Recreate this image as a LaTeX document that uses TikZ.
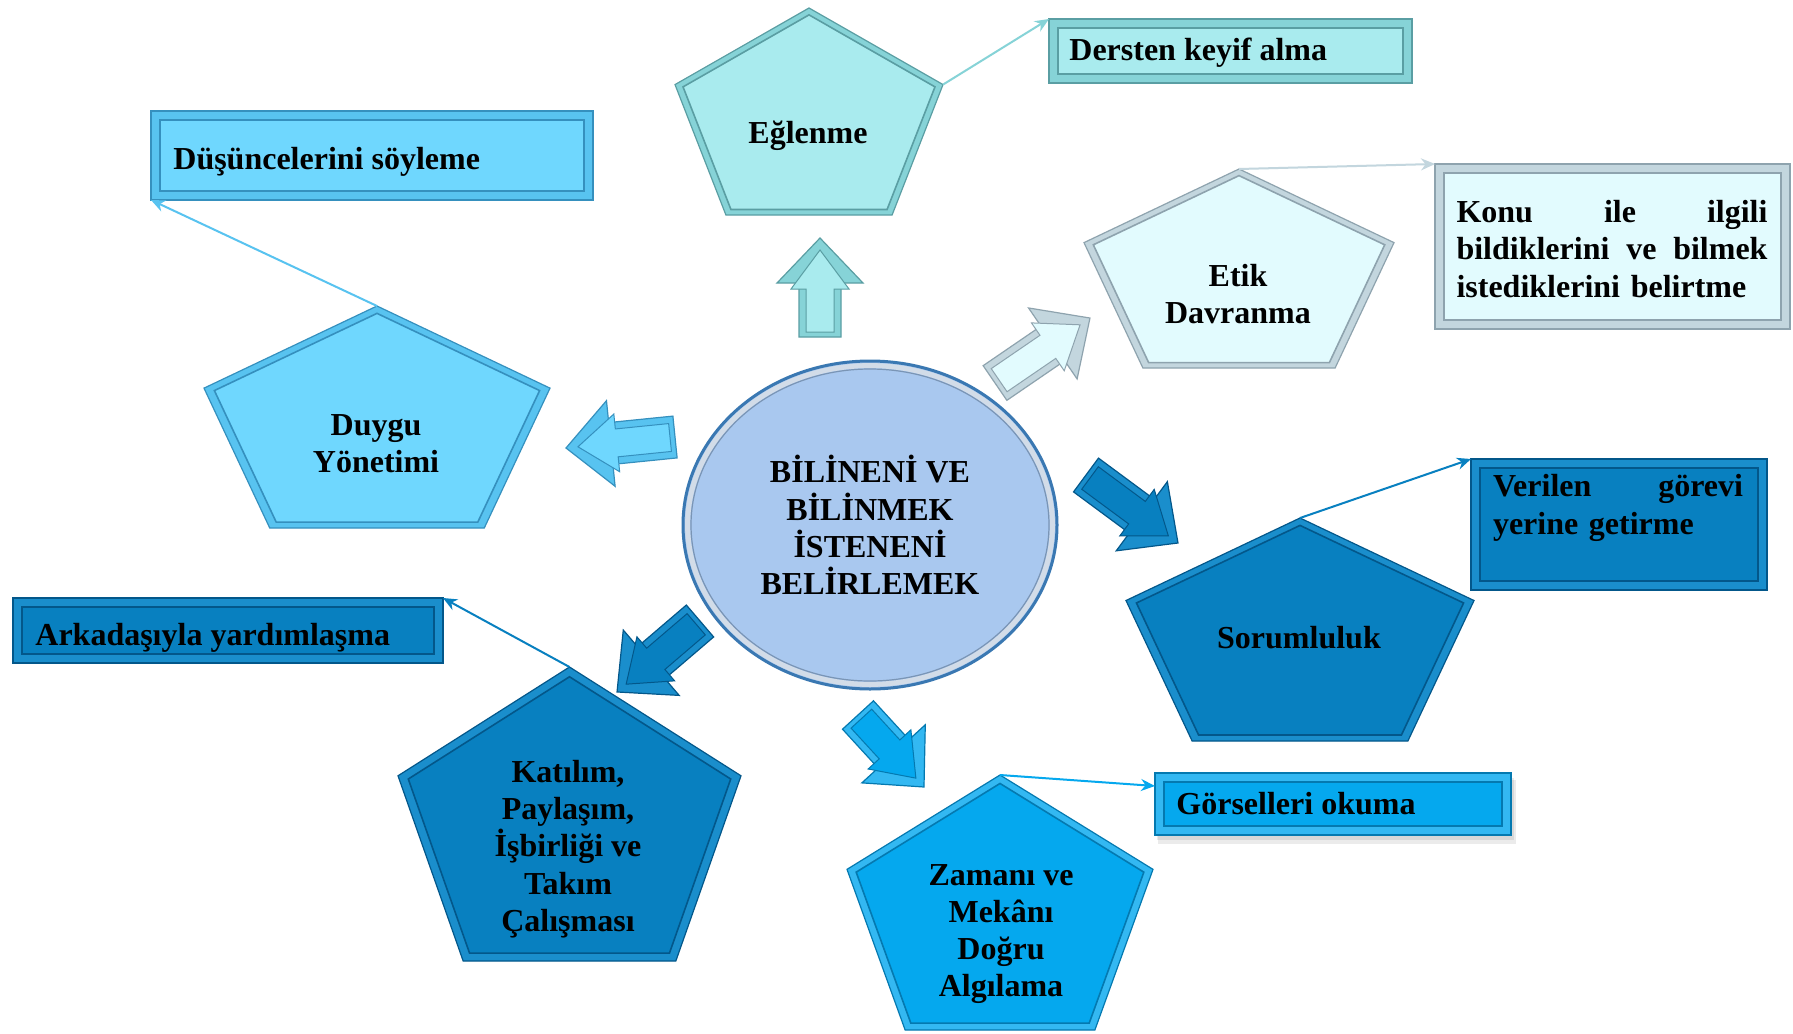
\documentclass[tikz,border=0pt]{standalone}
\usepackage{fontspec}
\setmainfont{Liberation Serif}
\usetikzlibrary{shapes.geometric,arrows.meta,calc}
\definecolor{tealF}{HTML}{A9EBEE}\definecolor{tealB}{HTML}{86D3D7}\definecolor{tealD}{HTML}{5A9EA3}
\definecolor{iceF}{HTML}{E2FBFE}\definecolor{iceB}{HTML}{C3D6DE}\definecolor{iceD}{HTML}{8EA3AE}
\definecolor{skyF}{HTML}{6FD7FE}\definecolor{skyB}{HTML}{58C3F0}\definecolor{skyD}{HTML}{3590BE}
\definecolor{navF}{HTML}{0880C0}\definecolor{navB}{HTML}{1A8ECC}\definecolor{navD}{HTML}{03578A}
\definecolor{brF}{HTML}{05A8EE}\definecolor{brB}{HTML}{33B8F2}\definecolor{brD}{HTML}{0479B0}
\definecolor{elF}{HTML}{A9C8EF}\definecolor{elR}{HTML}{3A78B2}\definecolor{elL}{HTML}{D2DCE8}\definecolor{elD}{HTML}{7A95B5}
\newcommand\pentagonal[6]{%
  \pgfmathsetmacro\pcx{(#2+#3)/2}%
  \pgfmathsetmacro\pcy{#4+0.553*(#5-#4)}%
  \pgfmathsetmacro\psy{#4+0.37*(#5-#4)}%
  \pgfmathsetmacro\pbx{0.62*(#3-#2)/2}%
  \coordinate (#1-t) at (\pcx,#4);
  \coordinate (#1-r) at (#3,\psy);
  \coordinate (#1-br) at (\pcx+\pbx,#5);
  \coordinate (#1-bl) at (\pcx-\pbx,#5);
  \coordinate (#1-l) at (#2,\psy);
  \coordinate (#1-c) at (\pcx,\pcy);
  \filldraw[fill=#6B,draw=#6D,line width=0.6pt] (#1-t)--(#1-r)--(#1-br)--(#1-bl)--(#1-l)--cycle;
  \filldraw[fill=#6F,draw=#6D,line width=0.8pt] ($(#1-c)!0.94!(#1-t)$)--($(#1-c)!0.94!(#1-r)$)--($(#1-c)!0.94!(#1-br)$)--($(#1-c)!0.94!(#1-bl)$)--($(#1-c)!0.94!(#1-l)$)--cycle;
}
\newcommand\bevelbox[6]{%
  \coordinate (#1-nw) at (#2,#3);
  \coordinate (#1-se) at (#4,#5);
  \coordinate (#1-sw) at (#2,#5);
  \coordinate (#1-ne) at (#4,#3);
  \filldraw[fill=#6B,draw=#6D,line width=0.6pt] (#1-nw) rectangle (#1-se);
  \filldraw[fill=#6F,draw=#6D,line width=0.6pt] ($(#1-nw)+(9,9)$) rectangle ($(#1-se)+(-9,-9)$);
}
\newcommand\blockarr[7]{%
  \coordinate (#1) at (#3,#4);
  \coordinate (#2) at (#5,#6);
  \pgfmathsetmacro\aang{atan2(-(#6-#4),(#5-#3))}%
  \pgfmathsetmacro\alen{veclen(#5-#3,#6-#4)}%
  \begin{scope}[shift={(#1)},rotate=\aang]
    \filldraw[fill=#7B,draw=#7D,line width=0.6pt] (0,-21)--(\alen-45,-21)--(\alen-45,-43)--(\alen,0)--(\alen-45,43)--(\alen-45,21)--(0,21)--cycle;
    \filldraw[fill=#7F,draw=#7D,line width=0.5pt] (5,-14)--(\alen-51,-14)--(\alen-51,-29)--(\alen-12,0)--(\alen-51,29)--(\alen-51,14)--(5,14)--cycle;
  \end{scope}
}
\begin{document}
\begin{tikzpicture}[x=0.5pt,y=-0.5pt,
  lbl/.style={font=\fontsize{16}{18.6}\selectfont\bfseries,inner sep=0pt,align=center,text=black},
  conn/.style={line width=1pt,-{Stealth[length=7pt,width=6pt]}}]
\useasboundingbox[fill=white] (0,0) rectangle (1793,1033);

% pentagons
\pentagonal{eg}{675}{943}{8}{215}{teal}
\pentagonal{et}{1084}{1394}{169}{368}{ice}
\pentagonal{du}{204}{550}{306}{528}{sky}
\pentagonal{so}{1126}{1474}{518}{741}{nav}
\pentagonal{ka}{398}{741}{667}{961}{nav}
\pentagonal{za}{847}{1153}{775}{1030}{br}

% boxes
\bevelbox{dk}{1049}{19}{1412}{83}{teal}
\bevelbox{ds}{151}{111}{593}{200}{sky}
\bevelbox{ko}{1435}{164}{1790}{329}{ice}
\bevelbox{ve}{1471}{459}{1767}{590}{nav}
\bevelbox{ar}{13}{598}{443}{663}{nav}
\fill[black,opacity=0.08] (1158,780) rectangle (1516,844);
\fill[black,opacity=0.08] (1157,778) rectangle (1514,840);
\bevelbox{go}{1155}{773}{1511}{835}{br}
\coordinate (go-in) at (1155,786);

% central ellipse
\node[ellipse,draw=elR,line width=1.5pt,fill=elF,minimum width=187pt,minimum height=164pt,lbl] (core) at (870,525) {BİLİNENİ VE\\BİLİNMEK\\İSTENENİ\\BELİRLEMEK};
\draw[elL,line width=2.5pt] (core.center) ellipse [x radius=91.2pt,y radius=79.7pt];
\draw[elD,line width=0.6pt] (core.center) ellipse [x radius=89.5pt,y radius=78pt];

% block arrows
\blockarr{a1s}{a1e}{820}{337}{820}{238}{teal}
\blockarr{a2s}{a2e}{675}{437}{566}{448}{sky}
\blockarr{a3s}{a3e}{995}{383}{1090}{318}{ice}
\blockarr{a4s}{a4e}{1086}{475}{1178}{543}{nav}
\blockarr{a5s}{a5e}{700}{621}{617}{692}{nav}
\blockarr{a6s}{a6e}{858}{715}{924}{787}{br}

% connectors
\draw[conn,tealB] (eg-r) -- (dk-nw);
\draw[conn,iceB] (et-t) -- (ko-nw);
\draw[conn,skyB] (du-t) -- (ds-sw);
\draw[conn,navF] (so-t) -- (ve-nw);
\draw[conn,navF] (ka-t) -- (ar-ne);
\draw[conn,brF] (za-t) -- (go-in);

% pentagon labels
\node[lbl] (t-eg) at (808,136) {Eğlenme};
\node[lbl] (t-et) at (1238,294) {Etik\\Davranma};
\node[lbl] (t-du) at (376,444) {Duygu\\Yönetimi};
\node[lbl] (t-so) at (1299,638) {Sorumluluk};
\node[lbl] (t-ka) at (568,849) {Katılım,\\Paylaşım,\\İşbirliği ve\\Takım\\Çalışması};
\node[lbl] (t-za) at (1001,934) {Zamanı ve\\Mekânı\\Doğru\\Algılama};

% box labels
\node[lbl,anchor=base west] (t-dk) at (1069,60) {Dersten keyif alma};
\node[lbl,anchor=base west] (t-ds) at (173,169) {Düşüncelerini söyleme};
\node[lbl,text width=155.5pt,align=left] (t-ko) at (1612,249) {Konu\hfill ile\hfill ilgili\\bildiklerini\hfill ve\hfill bilmek\\istediklerini belirtme};
\node[lbl,text width=125pt,align=left] (t-ve) at (1618,508) {Verilen\hfill görevi\\yerine getirme};
\node[lbl,anchor=base west] (t-ar) at (35,645) {Arkadaşıyla yardımlaşma};
\node[lbl,anchor=base west] (t-go) at (1176,814) {Görselleri okuma};
\end{tikzpicture}
\end{document}
